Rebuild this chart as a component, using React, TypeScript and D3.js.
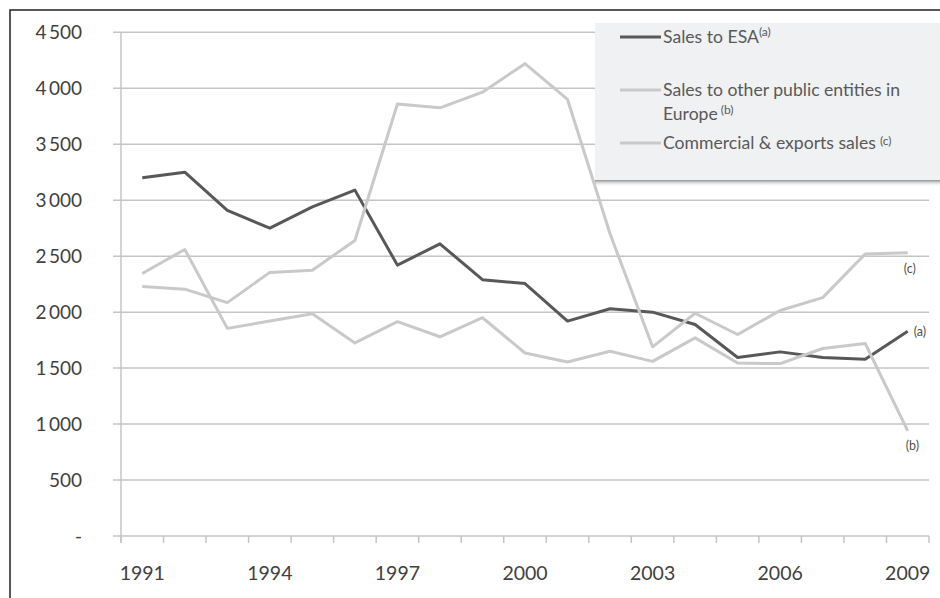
import React from "react";
import * as d3 from "d3";

const years = [1991, 1992, 1993, 1994, 1995, 1996, 1997, 1998, 1999, 2000, 2001, 2002, 2003, 2004, 2005, 2006, 2007, 2008, 2009];
const salesToEsa = [3200, 3250, 2910, 2750, 2940, 3090, 2420, 2610, 2290, 2255, 1920, 2030, 2000, 1890, 1595, 1645, 1595, 1580, 1830];
const salesOtherPublic = [2345, 2560, 1855, 1920, 1985, 1725, 1915, 1780, 1950, 1635, 1555, 1650, 1560, 1770, 1545, 1540, 1675, 1720, 940];
const commercialExports = [2230, 2205, 2085, 2355, 2375, 2640, 3860, 3825, 3965, 4220, 3900, 2700, 1690, 1990, 1800, 2015, 2130, 2520, 2530];
const yTicks = [0, 500, 1000, 1500, 2000, 2500, 3000, 3500, 4000, 4500];
const xLabelYears = [1991, 1994, 1997, 2000, 2003, 2006, 2009];

const W = 940;
const H = 598;
const left = 121;
const right = 929;
const top = 32.3;
const bottom = 536;

const DARK = "#585858";
const LIGHT = "#c9c9c9";
const FONT = "Lato, 'Open Sans', sans-serif";

const fmt = (v: number) => (v === 0 ? "-" : d3.format(",")(v).replace(/,/g, "\u2009"));

export default function App() {
  const x = d3.scaleBand<number>().domain(years).range([left, right]).padding(0);
  const y = d3.scaleLinear().domain([0, 4500]).range([bottom, top]);
  const cx = (yr: number) => (x(yr) as number) + x.bandwidth() / 2;

  const line = d3
    .line<number>()
    .x((_, i) => cx(years[i]))
    .y((d) => y(d));

  const series = [
    { values: salesToEsa, color: DARK, tag: "(a)" },
    { values: salesOtherPublic, color: LIGHT, tag: "(b)" },
    { values: commercialExports, color: LIGHT, tag: "(c)" },
  ];

  const lastYear = years[years.length - 1];
  const tagPos = [
    { dx: 6, dy: 5 },
    { dx: -2, dy: 19 },
    { dx: -4, dy: 20 },
  ];

  const boundaries = years.map((yr) => x(yr) as number).concat([right]);

  return (
    <svg
      width={W}
      height={H}
      style={{ position: "absolute", left: 0, top: 0, background: "#fff" }}
      fontFamily={FONT}
    >
      <defs>
        <linearGradient id="legendShadow" x1="0" y1="0" x2="0" y2="1">
          <stop offset="0" stopColor="#8f8f8f" />
          <stop offset="1" stopColor="#e8e8e8" stopOpacity="0" />
        </linearGradient>
      </defs>
      {/* frame */}
      <rect x={10} y={10} width={W} height={H} fill="none" stroke="#222" strokeWidth={1.5} />

      {/* horizontal gridlines */}
      {yTicks.map((t) => (
        <line key={t} x1={left - 8} x2={right} y1={y(t)} y2={y(t)} stroke="#c4c4c4" strokeWidth={1.5} />
      ))}
      {/* y axis */}
      <line x1={left} x2={left} y1={top} y2={bottom + 7} stroke="#c4c4c4" strokeWidth={1.5} />
      {/* x tick marks */}
      {boundaries.map((bx, i) => (
        <line key={i} x1={bx} x2={bx} y1={bottom} y2={bottom + 7} stroke="#c4c4c4" strokeWidth={1.5} />
      ))}

      {/* y labels */}
      {yTicks.map((t) => (
        <text
          key={t}
          x={82}
          y={y(t)}
          dy="0.36em"
          textAnchor="end"
          fontSize={19}
          fill="#404040"
        >
          {fmt(t)}
        </text>
      ))}
      {/* x labels */}
      {xLabelYears.map((yr) => (
        <text key={yr} x={cx(yr)} y={580} textAnchor="middle" fontSize={19.5} fill="#404040">
          {yr}
        </text>
      ))}

      {/* series */}
      {series.map((s, i) => (
        <path
          key={i}
          d={line(s.values) as string}
          fill="none"
          stroke={s.color}
          strokeWidth={3}
          strokeLinejoin="round"
        />
      ))}

      {/* end tags */}
      {series.map((s, i) => (
        <text
          key={"t" + i}
          x={cx(lastYear) + tagPos[i].dx}
          y={y(s.values[s.values.length - 1]) + tagPos[i].dy}
          fontSize={12.5}
          fill="#505050"
        >
          {s.tag}
        </text>
      ))}

      {/* legend */}
      <rect x={595} y={180} width={350} height={6} fill="url(#legendShadow)" />
      <rect x={595} y={23} width={350} height={157} fill="#f0f1f3" />
      <line x1={620} x2={661} y1={37} y2={37} stroke={DARK} strokeWidth={3} />
      <line x1={620} x2={661} y1={90} y2={90} stroke={LIGHT} strokeWidth={3} />
      <line x1={620} x2={661} y1={143} y2={143} stroke={LIGHT} strokeWidth={3} />
      <g fontSize={17.6} fill="#595959">
        <text x={663} y={43}>
          Sales to ESA
          <tspan fontSize={12} dy={-7}>(a)</tspan>
        </text>
        <text x={663} y={96}>Sales to other public entities in</text>
        <text x={663} y={120}>
          Europe
          <tspan fontSize={12} dx={3} dy={-6}>(b)</tspan>
        </text>
        <text x={663} y={149}>
          Commercial &amp; exports sales
          <tspan fontSize={12} dx={4} dy={-4}>(c)</tspan>
        </text>
      </g>
    </svg>
  );
}
